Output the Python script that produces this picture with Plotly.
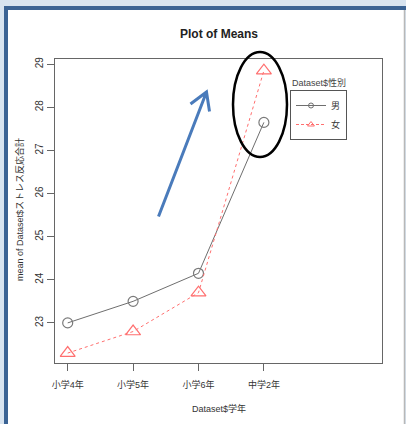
import plotly.graph_objects as go

categories = ["小学4年", "小学5年", "小学6年", "中学2年"]
male_means = [23.0, 23.5, 24.15, 27.65]
female_means = [22.3, 22.8, 23.7, 28.85]
series_names = ["男", "女"]
y_ticks = [23, 24, 25, 26, 27, 28, 29]

W, H = 406, 424
L, R, T, B = 55, 382, 59, 363  # plot area in pixels

def px(p):
    return (p - L) / (R - L)

def py(p):
    return (B - p) / (B - T)

FONT = "Liberation Sans, Arial, Noto Sans CJK JP, sans-serif"
MALE_COLOR = "#6e6e6e"
FEMALE_COLOR = "#ff6f6f"

fig = go.Figure()
fig.add_trace(go.Scatter(
    x=categories, y=male_means, name=series_names[0], showlegend=False,
    mode="lines+markers",
    line=dict(color=MALE_COLOR, width=1, dash="solid"),
    marker=dict(symbol="circle-open", size=10, color="#7a7a7a", line=dict(width=1.2)),
))
fig.add_trace(go.Scatter(
    x=categories, y=female_means, name=series_names[1], showlegend=False,
    mode="lines+markers",
    line=dict(color=FEMALE_COLOR, width=1, dash="3px,3px"),
    marker=dict(symbol="triangle-up-open", size=13, color=FEMALE_COLOR, line=dict(width=1.2)),
))
# legend entries with small symbols, as in the R legend
fig.add_trace(go.Scatter(
    x=[None], y=[None], name=series_names[0], mode="lines+markers",
    line=dict(color=MALE_COLOR, width=1),
    marker=dict(symbol="circle-open", size=5, color=MALE_COLOR, line=dict(width=1)),
))
fig.add_trace(go.Scatter(
    x=[None], y=[None], name=series_names[1], mode="lines+markers",
    line=dict(color=FEMALE_COLOR, width=1, dash="3px,2px"),
    marker=dict(symbol="triangle-up-open", size=6, color=FEMALE_COLOR, line=dict(width=1)),
))

shapes = [
    dict(type="rect", xref="paper", yref="paper", x0=px(8), x1=px(404), y0=py(10), y1=py(430),
         fillcolor="white", line=dict(width=0), layer="below"),
    dict(type="rect", xref="paper", yref="paper", x0=px(4), x1=px(8), y0=py(6), y1=py(430),
         fillcolor="#3b6394", line=dict(width=0), layer="below"),
    dict(type="rect", xref="paper", yref="paper", x0=px(4), x1=px(410), y0=py(6), y1=py(10),
         fillcolor="#3b6394", line=dict(width=0), layer="below"),
    dict(type="line", xref="paper", yref="paper", x0=px(404.5), x1=px(404.5), y0=py(10), y1=py(430),
         line=dict(color="#b8b8b8", width=1.5), layer="below"),
    dict(type="circle", xref="paper", yref="paper", x0=px(233), x1=px(287), y0=py(157), y1=py(52),
         line=dict(color="black", width=2.5)),
    dict(type="path", xref="paper", yref="paper",
         path=f"M {px(158.5)},{py(216.5)} L {px(206.5)},{py(92)} "
              f"M {px(190.5)},{py(104)} L {px(206.5)},{py(92)} L {px(209.5)},{py(111.5)}",
         line=dict(color="#4a7bbb", width=3)),
]

annotations = [
    dict(text="<b>Plot of Means</b>", xref="paper", yref="paper", x=px(218.5), y=py(34),
         showarrow=False, font=dict(size=12, color="#222", family=FONT), xanchor="center", yanchor="middle"),
    dict(text="Dataset$学年", xref="paper", yref="paper", x=px(219), y=py(408),
         showarrow=False, font=dict(size=9, color="#333", family=FONT), xanchor="center", yanchor="middle"),
    dict(text="mean of Dataset$ストレス反応合計", xref="paper", yref="paper", x=px(19), y=py(210),
         showarrow=False, textangle=-90, font=dict(size=9, color="#333", family=FONT),
         xanchor="center", yanchor="middle"),
    dict(text="Dataset$性別", xref="paper", yref="paper", x=px(290), y=py(82),
         showarrow=False, font=dict(size=9, color="#444", family=FONT), xanchor="left", yanchor="middle"),
]

fig.update_layout(
    width=W, height=H,
    margin=dict(l=L, r=W - R, t=T, b=H - B, pad=0),
    paper_bgcolor="#d8e4f0",
    plot_bgcolor="white",
    font=dict(family=FONT, size=9, color="#333"),
    showlegend=True,
    legend=dict(x=px(290), y=py(90), xanchor="left", yanchor="top",
                bgcolor="white", bordercolor="#555", borderwidth=1,
                itemwidth=30, font=dict(size=9, color="#333", family=FONT),
                tracegroupgap=0),
    shapes=shapes,
    annotations=annotations,
)

fig.update_xaxes(
    type="category", categoryorder="array", categoryarray=categories,
    range=[-0.194, 4.806],
    showline=True, mirror=True, linecolor="#666", linewidth=1,
    showgrid=False, zeroline=False,
    ticks="outside", ticklen=7, tickcolor="#666",
    ticklabelstandoff=6,
    tickfont=dict(size=9, color="#333", family=FONT),
)
fig.update_yaxes(
    range=[22.07, 29.12],
    tickvals=y_ticks, ticktext=[str(v) for v in y_ticks],
    tickangle=-90,
    showline=True, mirror=True, linecolor="#666", linewidth=1,
    showgrid=False, zeroline=False,
    ticks="outside", ticklen=7, tickcolor="#666",
    tickfont=dict(size=10, color="#333", family=FONT),
)

fig.write_html("out.html", config={"displayModeBar": False})

# remove the default page margin so the figure sits at the window origin
with open("out.html", "r", encoding="utf-8") as f:
    html = f.read()
html = html.replace("<head>", "<head><style>html,body{margin:0;padding:0;overflow:hidden;}</style>", 1)
with open("out.html", "w", encoding="utf-8") as f:
    f.write(html)
